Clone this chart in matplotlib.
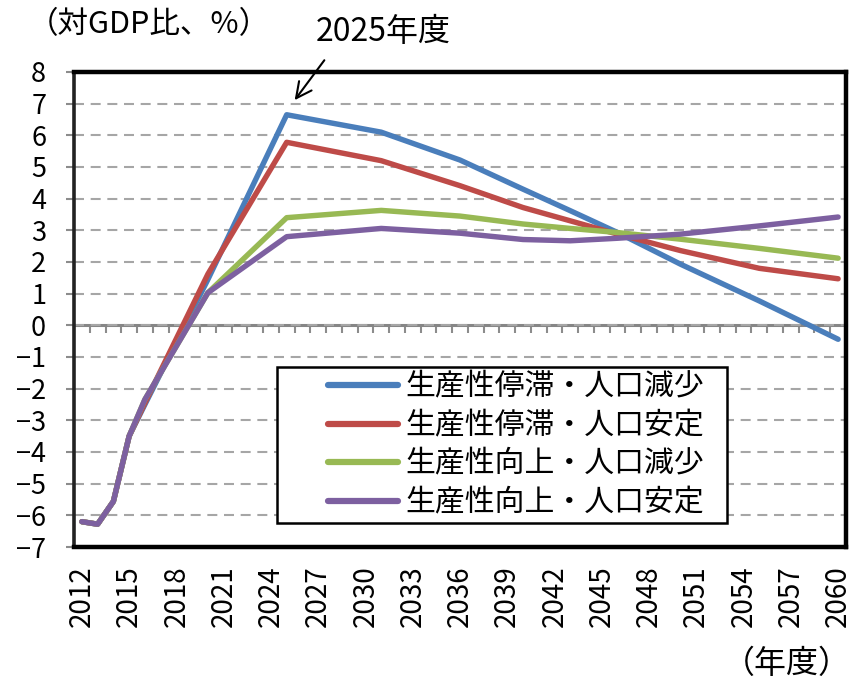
import numpy as np
import matplotlib
matplotlib.use("Agg")
import matplotlib.pyplot as plt
from matplotlib.patches import Rectangle

# Data (fiscal year, % of GDP)
years = [2012, 2013, 2014, 2015, 2016, 2020, 2025, 2031, 2036,
         2040, 2043, 2046, 2050, 2055, 2060]
stag_decline = [-6.2, -6.28, -5.56, -3.5, -2.5, 1.45, 6.65, 6.1, 5.22,
                4.3, 3.62, 2.93, 1.93, 0.77, -0.44]
stag_stable = [-6.2, -6.28, -5.56, -3.5, -2.45, 1.62, 5.78, 5.2, 4.41,
               3.72, 3.3, 2.88, 2.36, 1.8, 1.47]
up_decline = [-6.2, -6.28, -5.56, -3.5, -2.34, 1.03, 3.4, 3.63, 3.45,
              3.2, 3.06, 2.93, 2.72, 2.43, 2.12]
up_stable = [-6.2, -6.28, -5.56, -3.5, -2.34, 1.03, 2.8, 3.06, 2.91,
             2.71, 2.67, 2.75, 2.88, 3.14, 3.42]

series_names = ["生産性停滞・人口減少", "生産性停滞・人口安定",
                "生産性向上・人口減少", "生産性向上・人口安定"]
xtick_years = list(range(2012, 2061, 3))
ytick_values = list(range(-7, 9))


def main():
    '''
    Draw the four scenario lines in the Excel-like style of the source.
    '''
    plt.rcParams['font.family'] = ['Noto Sans CJK JP', 'DejaVu Sans']

    W, H = 854, 682
    fig = plt.figure(figsize=(W / 100, H / 100), dpi=100)
    left, right, top, bottom = 74, 846, 72, 547
    ax = fig.add_axes([left / W, 1 - bottom / H,
                       (right - left) / W, (bottom - top) / H])

    colors = ["#4A7EBB", "#BE4B48", "#98B954", "#7D60A0"]
    data = [stag_decline, stag_stable, up_decline, up_stable]
    for vals, col, name in zip(data, colors, series_names):
        ax.plot(years, vals, color=col, lw=3.9, label=name,
                solid_capstyle='round', solid_joinstyle='round', zorder=3)

    # Axes limits / ticks
    ax.set_xlim(years[0] - 0.5, years[-1] + 0.5)
    ax.set_ylim(ytick_values[0], ytick_values[-1])
    ax.set_yticks(ytick_values)
    ax.set_xticks(xtick_years)
    ax.set_xticklabels([str(y) for y in xtick_years], rotation=90)
    ax.tick_params(axis='x', length=0, pad=13, labelsize=20)
    ax.tick_params(axis='y', length=6, width=1.5, color='#8C8C8C',
                   pad=14, labelsize=19.5)

    # Dashed horizontal grid
    ax.set_axisbelow(True)
    ax.yaxis.grid(True, color='#A6A6A6', lw=1.5,
                  linestyle=(0, (4.8, 3.2)))

    for side in ['top', 'right', 'bottom']:
        ax.spines[side].set_linewidth(3.2)
        ax.spines[side].set_color('black')
    ax.spines['left'].set_linewidth(2.6)
    ax.spines['left'].set_color('#222222')

    # Zero line with category tick marks
    y0, y1 = ax.get_ylim()
    sec = ax.secondary_xaxis((0 - y0) / (y1 - y0))
    sec.set_xticks(np.arange(years[0] - 0.5, years[-1] + 1))
    sec.tick_params(axis='x', direction='out', length=6, width=1.5,
                    color='#8C8C8C', labelbottom=False)
    sec.spines['bottom'].set_color('#868686')
    sec.spines['bottom'].set_linewidth(2.2)

    # Legend box
    bx0 = (277 - left) / (right - left)
    by0 = (bottom - 523) / (bottom - top)
    bw = (727 - 277) / (right - left)
    bh = (523 - 367) / (bottom - top)
    ax.add_patch(Rectangle((bx0, by0), bw, bh, transform=ax.transAxes,
                           facecolor='white', edgecolor='black', lw=1.8,
                           zorder=4))
    leg = ax.legend(loc='center left',
                    bbox_to_anchor=((328 - left) / (right - left),
                                    (bottom - 445) / (bottom - top)),
                    frameon=False, fontsize=21.5, handlelength=2.35,
                    handletextpad=0.25, labelspacing=0.26, borderpad=0,
                    borderaxespad=0)
    leg.set_zorder(5)
    for line in leg.get_lines():
        line.set_linewidth(4.5)

    # Texts
    fig.text(28 / W, 1 - 25 / H, "（対GDP比、%）", fontsize=22,
             ha='left', va='center')
    fig.text(316 / W, 1 - 32 / H, "2025年度", fontsize=23,
             ha='left', va='center')
    fig.text(851 / W, 1 - 664 / H, "（年度）", fontsize=23,
             ha='right', va='center')
    ax.annotate("", xy=(2025.4, 7.04), xycoords='data',
                xytext=(326 / W, 1 - 58 / H), textcoords='figure fraction',
                arrowprops=dict(arrowstyle='->', lw=1.5, color='black',
                                mutation_scale=28))

    fig.savefig("out.png", dpi=100)


if __name__ == "__main__":
    main()
